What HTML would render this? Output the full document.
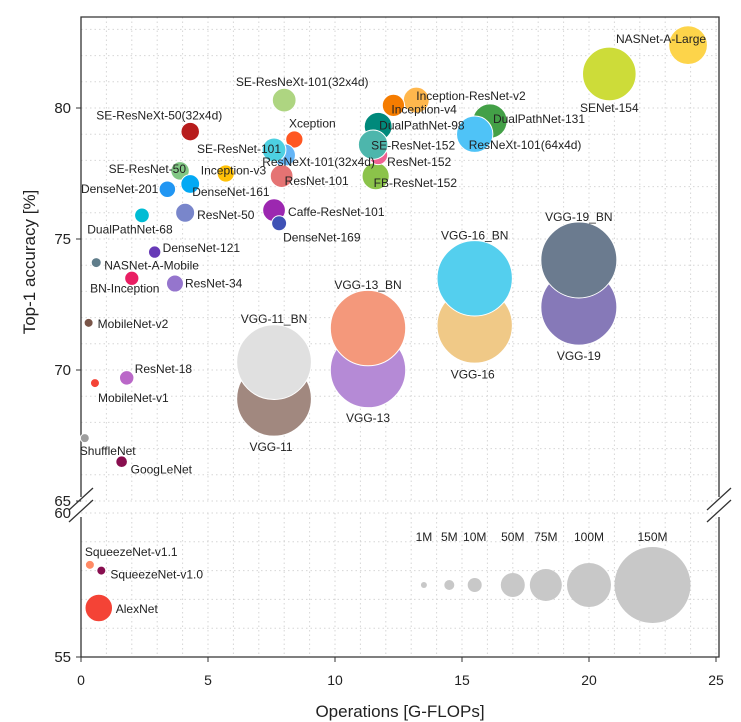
<!DOCTYPE html>
<html><head><meta charset="utf-8"><style>
html,body{margin:0;padding:0;background:#fff;}
svg{display:block;font-family:"Liberation Sans",sans-serif;}
</style></head><body>
<svg id="chart" width="741" height="722" viewBox="0 0 741 722"></svg>
<script>
const names=["VGG-11","VGG-11_BN","VGG-13","VGG-13_BN","VGG-16","VGG-16_BN","VGG-19","VGG-19_BN","SENet-154","NASNet-A-Large","SE-ResNeXt-101(32x4d)","Inception-ResNet-v2","Inception-v4","DualPathNet-131","ResNeXt-101(64x4d)","DualPathNet-98","FB-ResNet-152","ResNet-152","SE-ResNet-152","SE-ResNeXt-50(32x4d)","Xception","ResNeXt-101(32x4d)","SE-ResNet-101","ResNet-101","Inception-v3","SE-ResNet-50","DenseNet-161","DenseNet-201","DualPathNet-68","ResNet-50","Caffe-ResNet-101","DenseNet-169","DenseNet-121","NASNet-A-Mobile","BN-Inception","ResNet-34","MobileNet-v2","ResNet-18","MobileNet-v1","ShuffleNet","GoogLeNet","SqueezeNet-v1.1","SqueezeNet-v1.0","AlexNet"];
const flops=[7.6,7.6,11.3,11.3,15.5,15.5,19.6,19.6,20.8,23.9,8.0,13.2,12.3,16.1,15.5,11.7,11.6,11.7,11.5,4.3,8.4,8.0,7.6,7.9,5.7,3.9,4.3,3.4,2.4,4.1,7.6,7.8,2.9,0.6,2.0,3.7,0.3,1.8,0.55,0.15,1.6,0.35,0.8,0.7];
const acc=[68.9,70.3,70.0,71.6,71.7,73.5,72.4,74.2,81.3,82.4,80.3,80.3,80.1,79.5,79.0,79.3,77.4,78.2,78.6,79.1,78.8,78.2,78.4,77.4,77.5,77.6,77.1,76.9,75.9,76.0,76.1,75.6,74.5,74.1,73.5,73.3,71.8,69.7,69.5,67.4,66.5,58.2,58.0,56.7];
const params=[148,148,149,149,149,149,150,150,115,89,49,56,43,80,84,62,60,30,67,28,23,44,49,45,23,28,29,20,13,30,45,14,8,5,11,22,4,12,4,4,7,4,4,61];
const colors=["#a1887f","#e0e0e0","#b58ad6","#f4987b","#f0c987","#54cfee","#8679b8","#6b7b8f","#cddc39","#fdd44a","#aed581","#ffb74d","#f57c00","#43a047","#4fc3f7","#00897b","#8bc34a","#f06292","#4db6ac","#b71c1c","#ff5722","#64b5f6","#4dd0e1","#e57373","#ffc107","#81c784","#03a9f4","#2196f3","#00bcd4","#7986cb","#9c27b0","#3f51b5","#673ab7","#607d8b","#e91e63","#9575cd","#795548","#ba68c8","#f44336","#9e9e9e","#880e4f","#ff8a65","#880e4f","#f44336"];
const labelAnchor=["middle","middle","middle","middle","middle","middle","middle","middle","middle","end","middle","start","start","start","start","start","start","start","start","middle","middle","start","end","start","start","end","start","end","middle","start","start","start","start","start","middle","start","start","start","start","start","start","start","start","start"];
const labelDx=[-3,0,0,0,-2,0,0,0,0,18,18,0,-2,3,-6,1,-2,9,-2,-31,18,-22,7,3,-25,6,2,-9,-12,12,14,4,8,8,-7,10,9,8,3,-5,9,-5,9,17];
const labelDy=[48,-43,48,-43,49,-43,49,-43,34,-6,-18,-4,4,-2,11,-1,7,7,1,-16,-16,7,-1,5,-3,-2,8,0,14,2,2,14,-4,3,10,0,1,-9,15,13,8,-13,4,1];
const xTicks=[0,5,10,15,20,25];
const yTicksUpper=[65,70,75,80];
const yTicksLower=[55,60];
const legendSizes=[1,5,10,50,75,100,150];
const legendLabels=["1M","5M","10M","50M","75M","100M","150M"];
const legendX=[13.5,14.5,15.5,17.0,18.3,20.0,22.5];

const NS="http://www.w3.org/2000/svg";
const svg=document.getElementById('chart');
const L=81,R=719,TOP=17,UB=501,LT=513,BOT=657;
const xS=v=>L+v*25.4;
const yU=v=>108-(v-80)*26.2;
const yL=v=>657-(v-55)*28.8;
const yS=v=>v>=63?yU(v):yL(v);
const sP=[1,5,10,50,75,100,150],sR=[3,5,7,12,16,22,38];
function rS(p){if(p<=sP[0])return sR[0];for(let i=1;i<sP.length;i++){if(p<=sP[i]){const t=(p-sP[i-1])/(sP[i]-sP[i-1]);return sR[i-1]+t*(sR[i]-sR[i-1]);}}return sR[sR.length-1];}
function el(t,a,p){const e=document.createElementNS(NS,t);for(const k in a)e.setAttribute(k,a[k]);(p||svg).appendChild(e);return e;}

const grid=el('g',{});


for(let v=1;v<=25;v++){const x=xS(v);el('line',{x1:x,x2:x,y1:TOP,y2:UB,stroke:'#d6d6d6','stroke-dasharray':'1.5,3'},grid);el('line',{x1:x,x2:x,y1:LT,y2:BOT,stroke:'#d6d6d6','stroke-dasharray':'1.5,3'},grid);}
for(let v=65;v<=83;v++){const y=yU(v);el('line',{x1:L,x2:R,y1:y,y2:y,stroke:'#d6d6d6','stroke-dasharray':'1.5,3'},grid);}
for(let v=56;v<=60;v++){const y=yL(v);el('line',{x1:L,x2:R,y1:y,y2:y,stroke:'#d6d6d6','stroke-dasharray':'1.5,3'},grid);}

const frame=el('g',{stroke:'#333','stroke-width':1.3,fill:'none'});


el('path',{d:`M${L},${UB-4} V${TOP} H${R} V${UB-4}`},frame);
el('path',{d:`M${L},${LT+4} V${BOT} H${R} V${LT+4}`},frame);
el('path',{d:`M${L-12},${UB+9} L${L+12},${UB-13} M${L-12},${LT+9} L${L+12},${LT-13}`},frame);
el('path',{d:`M${R-12},${UB+9} L${R+12},${UB-13} M${R-12},${LT+9} L${R+12},${LT-13}`},frame);

xTicks.forEach(v=>{const x=xS(v);el('line',{x1:x,x2:x,y1:BOT,y2:BOT+5,stroke:'#333'});const t=el('text',{x:x,y:BOT+28,'text-anchor':'middle','font-size':14,fill:'#222'});t.textContent=v;});
yTicksUpper.forEach(v=>{const y=yU(v);el('line',{x1:L-5,x2:L,y1:y,y2:y,stroke:'#333'});const t=el('text',{x:L-10,y:y+5,'text-anchor':'end','font-size':15,fill:'#222'});t.textContent=v;});
yTicksLower.forEach(v=>{const y=yL(v);if(v<60)el('line',{x1:L-5,x2:L,y1:y,y2:y,stroke:'#333'});const t=el('text',{x:L-10,y:y+5,'text-anchor':'end','font-size':15,fill:'#222'});t.textContent=v;});

const xt=el('text',{x:400,y:717,'text-anchor':'middle','font-size':17,fill:'#222'});xt.textContent='Operations [G-FLOPs]';


const yt=el('text',{x:0,y:0,transform:'translate(35,262) rotate(-90)','text-anchor':'middle','font-size':17,fill:'#222'});yt.textContent='Top-1 accuracy [%]';



const pts=el('g',{});


names.forEach((n,i)=>{
  const c=el('circle',{cx:xS(flops[i]),cy:yS(acc[i]),r:rS(params[i]),fill:colors[i],stroke:'#fff','stroke-width':1},pts);
  
  
});
const labs=el('g',{});


names.forEach((n,i)=>{
  const t=el('text',{x:xS(flops[i])+labelDx[i],y:yS(acc[i])+labelDy[i]+4,'text-anchor':labelAnchor[i],'font-size':12,fill:'#222'},labs);
  t.textContent=n;
  
  
});

const lg=el('g',{});


legendSizes.forEach((p,i)=>{
  const c=el('circle',{cx:xS(legendX[i]),cy:yL(57.5),r:rS(p),fill:'#c8c8c8'},lg);
  
  
  const t=el('text',{x:xS(legendX[i]),y:541,'text-anchor':'middle','font-size':12,fill:'#222'},lg);
  t.textContent=legendLabels[i];
  
  
});
</script>
</body></html>
